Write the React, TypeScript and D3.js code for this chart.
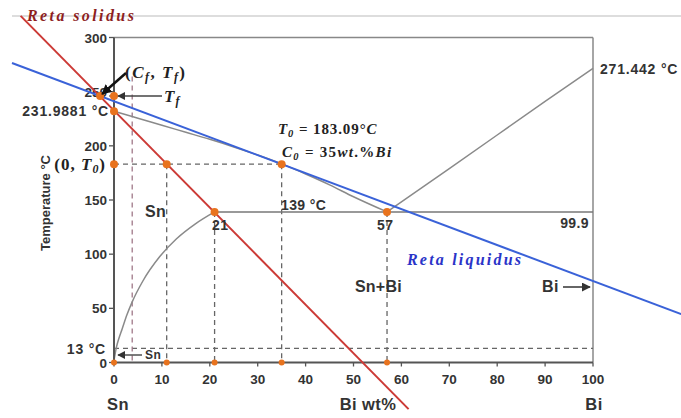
import React, { useEffect, useRef } from 'react';
import * as d3 from 'd3';

const W = 681;
const H = 418;

const xTicks = [0, 10, 20, 30, 40, 50, 60, 70, 80, 90, 100];
const yTicks = [0, 50, 100, 150, 200, 250, 300];

// phase boundaries (wt% Bi, °C)
const liquidusSn = [[0, 231.99], [5, 225.5], [10, 219], [15, 212.5], [20, 206], [25, 199], [30, 191.5], [35, 183.3], [40, 174], [45, 164], [50, 153], [57, 139]];
const liquidusBi = [[57, 139], [70, 179], [80, 210], [90, 241], [100, 271.442]];
const solvusSn = [[0, 2], [0.5, 14], [1, 22], [1.7, 31], [2.7, 44], [3.8, 56], [6, 75], [9.6, 98], [13, 114], [17, 128], [21, 139]];
const eutectic = [[21, 139], [100, 139]];

// straight lines drawn over the diagram
const retaSolidus = [[-19.5, 320], [61.5, -43]];
const retaLiquidus = [[-21.3, 276.5], [118.4, 44.7]];

const T0 = 183.09;
const Tf = 246;
const Cf = -2.9;
const Tsn = 231.9881;
const Tlow = 13;
const Cline = [3.8, 264];

const dashedV = [[11, T0], [21, 139], [35, T0], [57, 139]];
const axisDots = [0, 11, 21, 35, 57];
const plotDots = [[Cf, Tf], [0, Tf], [0, Tsn], [0, T0], [11, T0], [35, T0], [21, 139], [57, 139]];

const sans = '"Liberation Sans", Arial, sans-serif';
const serif = '"Liberation Serif", "Times New Roman", serif';

export default function App() {
  const ref = useRef<SVGSVGElement | null>(null);

  useEffect(() => {
    const svg = d3.select(ref.current);
    svg.selectAll('*').remove();

    const x = d3.scaleLinear().domain([0, 100]).range([114, 593]);
    const y = d3.scaleLinear().domain([0, 300]).range([362.5, 37.5]);
    const line = d3.line<number[]>().x(d => x(d[0])).y(d => y(d[1]));
    const curve = d3.line<number[]>().x(d => x(d[0])).y(d => y(d[1])).curve(d3.curveMonotoneX);

    const defs = svg.append('defs');
    const mk = (id: string, col: string, size: number) =>
      defs.append('marker').attr('id', id).attr('viewBox', '0 0 10 10').attr('refX', 9).attr('refY', 5)
        .attr('markerWidth', size).attr('markerHeight', size).attr('orient', 'auto')
        .append('path').attr('d', 'M0,0L10,5L0,10z').attr('fill', col);
    mk('ah', '#111', 4);
    mk('ahg', '#333', 6);

    // page rule at the top
    svg.append('line').attr('x1', 12).attr('x2', W).attr('y1', 16).attr('y2', 16)
      .attr('stroke', '#bbb').attr('stroke-width', 1);

    const g = svg.append('g');

    // frame
    g.append('line').attr('x1', x(0)).attr('x2', x(100)).attr('y1', y(300)).attr('y2', y(300)).attr('stroke', '#888').attr('stroke-width', 1.5);
    g.append('line').attr('x1', x(100)).attr('x2', x(100)).attr('y1', y(300)).attr('y2', y(0)).attr('stroke', '#888').attr('stroke-width', 1.5);

    // dashed guides
    const dash = (x1: number, y1: number, x2: number, y2: number, col = '#666') =>
      g.append('line').attr('x1', x1).attr('y1', y1).attr('x2', x2).attr('y2', y2)
        .attr('stroke', col).attr('stroke-width', 1.3).attr('stroke-dasharray', '5,4');
    dash(x(0), y(T0), x(35), y(T0));
    dash(x(0), y(Tlow), x(100), y(Tlow));
    dashedV.forEach(d => dash(x(d[0]), y(d[1]), x(d[0]), y(0)));
    dash(x(Cline[0]), y(Cline[1]), x(Cline[0]), y(0), '#a07888');
    dash(x(Cf), y(Tf), x(0), y(Tf));

    // phase diagram lines
    const gray = '#8a8a8a';
    g.append('path').datum(liquidusSn).attr('d', curve).attr('fill', 'none').attr('stroke', gray).attr('stroke-width', 1.5);
    g.append('path').datum(liquidusBi).attr('d', line).attr('fill', 'none').attr('stroke', gray).attr('stroke-width', 1.5);
    g.append('path').datum(solvusSn).attr('d', curve).attr('fill', 'none').attr('stroke', gray).attr('stroke-width', 1.5);
    g.append('path').datum(eutectic).attr('d', line).attr('fill', 'none').attr('stroke', '#777').attr('stroke-width', 1.5);

    // axes
    g.append('line').attr('x1', x(0)).attr('x2', x(0)).attr('y1', y(300)).attr('y2', y(0)).attr('stroke', '#555').attr('stroke-width', 2);
    g.append('line').attr('x1', x(0)).attr('x2', x(100)).attr('y1', y(0)).attr('y2', y(0)).attr('stroke', '#555').attr('stroke-width', 2);
    yTicks.forEach(t => {
      g.append('line').attr('x1', x(0) - 5).attr('x2', x(0)).attr('y1', y(t)).attr('y2', y(t)).attr('stroke', '#555').attr('stroke-width', 1.3);
      g.append('text').attr('x', x(0) - 7).attr('y', y(t) + 5).attr('text-anchor', 'end')
        .attr('font-family', sans).attr('font-weight', 'bold').attr('font-size', 13.5).attr('fill', '#333').text(t);
    });
    xTicks.forEach(t => {
      g.append('line').attr('x1', x(t)).attr('x2', x(t)).attr('y1', y(0)).attr('y2', y(0) + 4).attr('stroke', '#555').attr('stroke-width', 1.3);
      g.append('text').attr('x', x(t)).attr('y', 384).attr('text-anchor', 'middle')
        .attr('font-family', sans).attr('font-weight', 'bold').attr('font-size', 13.5).attr('fill', '#333').text(t);
    });

    // reta lines
    g.append('path').datum(retaLiquidus).attr('d', line).attr('stroke', '#3a62d8').attr('stroke-width', 2).attr('fill', 'none');
    g.append('path').datum(retaSolidus).attr('d', line).attr('stroke', '#cc3a36').attr('stroke-width', 2).attr('fill', 'none');

    // dots
    const orange = '#e8731e';
    g.selectAll('.pd').data(plotDots).enter().append('circle')
      .attr('cx', d => x(d[0])).attr('cy', d => y(d[1])).attr('r', 4).attr('fill', orange);
    g.selectAll('.ad').data(axisDots).enter().append('circle')
      .attr('cx', d => x(d)).attr('cy', y(0)).attr('r', 3).attr('fill', orange);

    // arrows
    g.append('line').attr('x1', 126).attr('y1', 73).attr('x2', x(Cf) + 2).attr('y2', y(Tf) - 2)
      .attr('stroke', '#111').attr('stroke-width', 2.5).attr('marker-end', 'url(#ah)');
    g.append('line').attr('x1', 162).attr('y1', y(Tf)).attr('x2', x(0) + 4).attr('y2', y(Tf))
      .attr('stroke', '#444').attr('stroke-width', 1.3).attr('marker-end', 'url(#ahg)');
    g.append('line').attr('x1', 142).attr('y1', 355).attr('x2', x(0) + 4).attr('y2', 355)
      .attr('stroke', '#333').attr('stroke-width', 1.3).attr('marker-end', 'url(#ahg)');
    g.append('line').attr('x1', 563).attr('y1', 287).attr('x2', 590).attr('y2', 287)
      .attr('stroke', '#333').attr('stroke-width', 1.5).attr('marker-end', 'url(#ahg)');

    // plain labels
    const lab = (tx: number, ty: number, s: string, size = 14, anchor = 'start', ls = 0.4) =>
      g.append('text').attr('x', tx).attr('y', ty).attr('text-anchor', anchor).attr('letter-spacing', ls)
        .attr('font-family', sans).attr('font-weight', 'bold').attr('font-size', size).attr('fill', '#333').text(s);
    lab(109, 115.5, '231.9881 °C', 14, 'end', 0.8);
    lab(106, 353.5, '13 °C', 14, 'end', 0.8);
    lab(600, 74, '271.442 °C', 14, 'start', 0.8);
    lab(281, 210, '139 °C', 14);
    lab(589, 228, '99.9', 14, 'end');
    lab(212, 230, '21', 14);
    lab(377, 230, '57', 14);
    lab(145, 217, 'Sn', 16);
    lab(355, 292, 'Sn+Bi', 16, 'start', 0.2);
    lab(542, 292, 'Bi', 16);
    lab(145, 359, 'Sn', 12);
    lab(118, 410, 'Sn', 16.5, 'middle');
    lab(368, 410, 'Bi wt%', 16.5, 'middle');
    lab(594, 410, 'Bi', 16.5, 'middle');
    g.append('text').attr('transform', 'translate(50,203) rotate(-90)').attr('text-anchor', 'middle')
      .attr('font-family', sans).attr('font-weight', 'bold').attr('font-size', 13).attr('fill', '#333')
      .text('Temperature °C');

    // math labels: [text, isSubscript]
    const math = (tx: number, ty: number, parts: [string, boolean][], size = 15, anchor = 'start', ls = 1) => {
      const t = g.append('text').attr('x', tx).attr('y', ty).attr('text-anchor', anchor).attr('letter-spacing', ls)
        .attr('font-family', serif).attr('font-weight', 'bold').attr('font-size', size).attr('fill', '#222');
      let shifted = false;
      parts.forEach(([s, sub]) => {
        const sp = t.append('tspan').text(s);
        if (sub) {
          sp.attr('font-size', size * 0.7).attr('font-style', 'italic').attr('dy', shifted ? 0 : 3);
          shifted = true;
        } else {
          sp.attr('font-style', /[A-Za-z]/.test(s) ? 'italic' : 'normal');
          if (shifted) { sp.attr('dy', -3); shifted = false; }
        }
      });
      return t;
    };
    math(125, 78, [['(', false], ['C', false], ['f', true], [', ', false], ['T', false], ['f', true], [')', false]], 17, 'start', 1.5);
    math(164, 102, [['T', false], ['f', true]], 17);
    math(106, 170, [['(0, ', false], ['T', false], ['0', true], [')', false]], 17, 'end', 1);
    math(278, 134, [['T', false], ['0', true], [' = 183.09°', false], ['C', false]], 15, 'start', 0.9);
    math(282, 157, [['C', false], ['0', true], [' = 35', false], ['wt', false], ['.%', false], ['Bi', false]], 15, 'start', 1.3);

    g.append('text').attr('x', 407).attr('y', 265).attr('font-family', serif).attr('font-style', 'italic').attr('letter-spacing', 2.2)
      .attr('font-weight', 'bold').attr('font-size', 16).attr('fill', '#2a34c8').text('Reta liquidus');
    svg.append('text').attr('x', 27).attr('y', 21).attr('font-family', serif).attr('font-style', 'italic').attr('letter-spacing', 2.4)
      .attr('font-weight', 'bold').attr('font-size', 16).attr('fill', '#8e1f1f').text('Reta solidus');
  }, []);

  return (
    <div style={{ position: 'absolute', left: 0, top: 0, width: W, height: H, background: '#fff' }}>
      <svg ref={ref} width={W} height={H} style={{ display: 'block' }}></svg>
    </div>
  );
}
